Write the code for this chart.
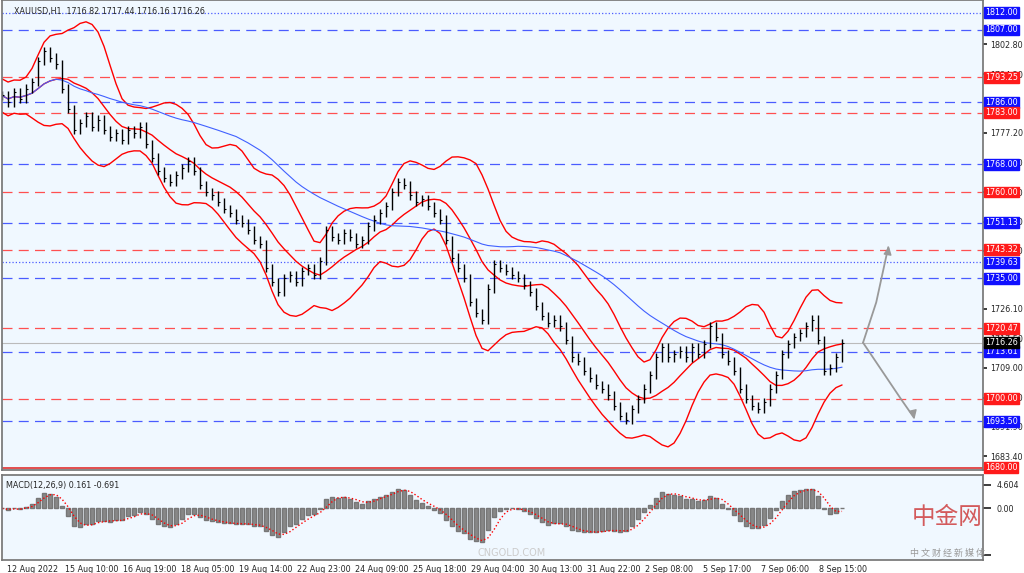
import numpy as np, pandas as pd, matplotlib
matplotlib.use("Agg")
import matplotlib.pyplot as plt, seaborn as sns

closes = [1788,1786,1789,1787,1790,1792,1798,1801,1799,1797,1790,1784,1778,
 1780,1782,1779,1781,1778,1776,1777,1775,1778,1777,1779,1774,1770,1766,1764,
 1763,1765,1767,1769,1766,1762,1760,1759,1757,1755,1754,1752,1751,1749,1746,1745,1738,1734,
 1731,1735,1736,1734,1737,1738,1736,1740,1749,1747,1746,1748,1747,1745,1746,
 1750,1752,1754,1756,1760,1763,1762,1759,1757,1758,1756,1754,1752,1746,
 1741,1738,1735,1728,1725,1723,1732,1739,1738,1737,1736,1735,1733,1731,1727,1724,
 1722,1723,1721,1717,1712,1711,1708,1706,1704,1703,1701,1698,1695,1694,
 1697,1700,1703,1707,1712,1715,1712,1713,1714,1712,1715,1713,1716,
 1721,1718,1713,1711,1708,1703,1700,1698,1697,1699,1703,1707,1713,
 1716,1718,1719,1721,1723,1717,1708,1709,1712,1716.26]
time_labels = ["12 Aug 2022","15 Aug 10:00","16 Aug 19:00","18 Aug 05:00","19 Aug 14:00",
 "22 Aug 23:00","24 Aug 09:00","25 Aug 18:00","29 Aug 04:00","30 Aug 13:00",
 "31 Aug 22:00","2 Sep 08:00","5 Sep 17:00","7 Sep 06:00","8 Sep 15:00"]
blue_dash = [1807,1786,1768,1751.13,1735,1713.61,1693.5]
blue_dot = [1812,1739.63]
red_dash = [1793.25,1783,1760,1743.32,1720.47,1700]
red_solid = [1680]
axis_ticks = [1802.80,1794.20,1777.20,1768.60,1760.00,1751.40,1743.00,1726.10,1717.50,1709.00,1700.30,1691.90,1683.40]
fc_up = [1716.3,1728,1744]
fc_dn = [1716.3,1700,1694.5]

sns.set_theme(style="white")
plt.rcParams['font.family'] = ['DejaVu Sans']
bg = "#f0f8ff"
fig = plt.figure(figsize=(10.24,5.73), dpi=100)
fig.patch.set_facecolor("white")
ax = fig.add_axes([0.002,0.18,0.958,0.82])
mx = fig.add_axes([0.002,0.023,0.958,0.148])
for a in (ax,mx):
    a.set_facecolor(bg)
    for sp in a.spines.values(): sp.set_color("#777")
s = pd.Series(closes, dtype=float)
idx = np.arange(len(s))
XMAX = 981/6
ax.set_xlim(0,XMAX); mx.set_xlim(0,XMAX)
ax.set_ylim(1679.4,1815.7)

for v in blue_dash: ax.axhline(v,color="#4a5cff",ls=(0,(8,5)),lw=0.9)
for v in blue_dot: ax.axhline(v,color="#4a5cff",ls=":",lw=0.9)
for v in red_dash: ax.axhline(v,color="#ff5050",ls=(0,(8,5)),lw=0.9)
for v in red_solid: ax.axhline(v,color="#e03030",lw=1.2)
ax.axhline(closes[-1],color="#bbbbbb",lw=0.8)

mid = s.rolling(10,min_periods=1).mean()
sd = s.rolling(10,min_periods=2).std().bfill().rolling(3,min_periods=1,center=True).mean()
ma = s.rolling(40,min_periods=1).mean()
sns.lineplot(x=idx,y=mid,ax=ax,color="red",lw=1)
sns.lineplot(x=idx,y=mid+2*sd+2,ax=ax,color="red",lw=1)
sns.lineplot(x=idx,y=mid-2*sd-2,ax=ax,color="red",lw=1)
sns.lineplot(x=idx,y=ma,ax=ax,color="#4060ff",lw=0.8)
prev = s.shift(1).fillna(s[0])
ax.vlines(idx,np.minimum(prev,s)-1.2,np.maximum(prev,s)+1.2,color="black",lw=1)
ax.hlines(s,idx,idx+0.35,color="black",lw=0.8)

x0 = len(s)-1+3.5
ax.plot([x0,x0+2.2,x0+4.2],fc_up,color="#999",lw=1.3)
ax.plot([x0,x0+6.3,x0+8.5],fc_dn,color="#999",lw=1.3)
ax.annotate("",xy=(x0+4.4,fc_up[-1]+1),xytext=(x0+4.1,fc_up[-1]-2),arrowprops=dict(arrowstyle="-|>",color="#999"))
ax.annotate("",xy=(x0+8.7,fc_dn[-1]-1),xytext=(x0+8.3,fc_dn[-1]+2),arrowprops=dict(arrowstyle="-|>",color="#999"))

ax.yaxis.tick_right(); ax.set_yticks(axis_ticks)
ax.set_yticklabels([f"{t:.2f}" for t in axis_ticks],fontsize=5.8)
ax.tick_params(axis="y",length=3,pad=2)
ax.set_xticks([])
def box(v,c,tc="white"):
    ax.text(1.002,v,f"{v:.2f}",transform=ax.get_yaxis_transform(),fontsize=5.8,color=tc,
            va="center",ha="left",bbox=dict(boxstyle="square,pad=0.12",fc=c,ec=c))
for v in blue_dash+blue_dot: box(v,"#1010ff")
for v in red_dash+red_solid: box(v,"#ff1a1a")
box(closes[-1],"black")
ax.text(0.012,0.985,"XAUUSD,H1  1716.82 1717.44 1716.16 1716.26",transform=ax.transAxes,fontsize=5.8,va="top")

ema = lambda x,n: x.ewm(span=n,adjust=False).mean()
macd = ema(s,4)-ema(s,8); sig = macd.rolling(3,min_periods=1).mean()
mx.bar(idx,macd,width=0.7,color="#888",edgecolor="#777")
mx.plot(idx,sig,color="red",ls=":",lw=1)
mx.set_ylim(-10,6.5)
mx.yaxis.tick_right(); mx.set_yticks([4.604,0,-9]); mx.set_yticklabels(["4.604","0.00",""],fontsize=5.8)
mx.text(0.004,0.93,"MACD(12,26,9) 0.161 -0.691",transform=mx.transAxes,fontsize=5.8,va="top")
mx.set_xticks([(5+58*i)/6 for i in range(len(time_labels))])
mx.set_xticklabels(time_labels,fontsize=5.8,ha="left")
mx.tick_params(axis="x",length=3,pad=1)
fig.text(0.925,0.085,"中金网",fontsize=17,color="#c33",family=['Noto Sans CJK SC'],ha="center",alpha=0.8)
fig.text(0.925,0.03,"中 文 财 经 新 媒 体",fontsize=6.5,color="#999",family=['Noto Sans CJK SC'],ha="center")
fig.text(0.5,0.03,"CNGOLD.COM",fontsize=7,color="#ccc",ha="center")
fig.savefig("out.png",dpi=100)
